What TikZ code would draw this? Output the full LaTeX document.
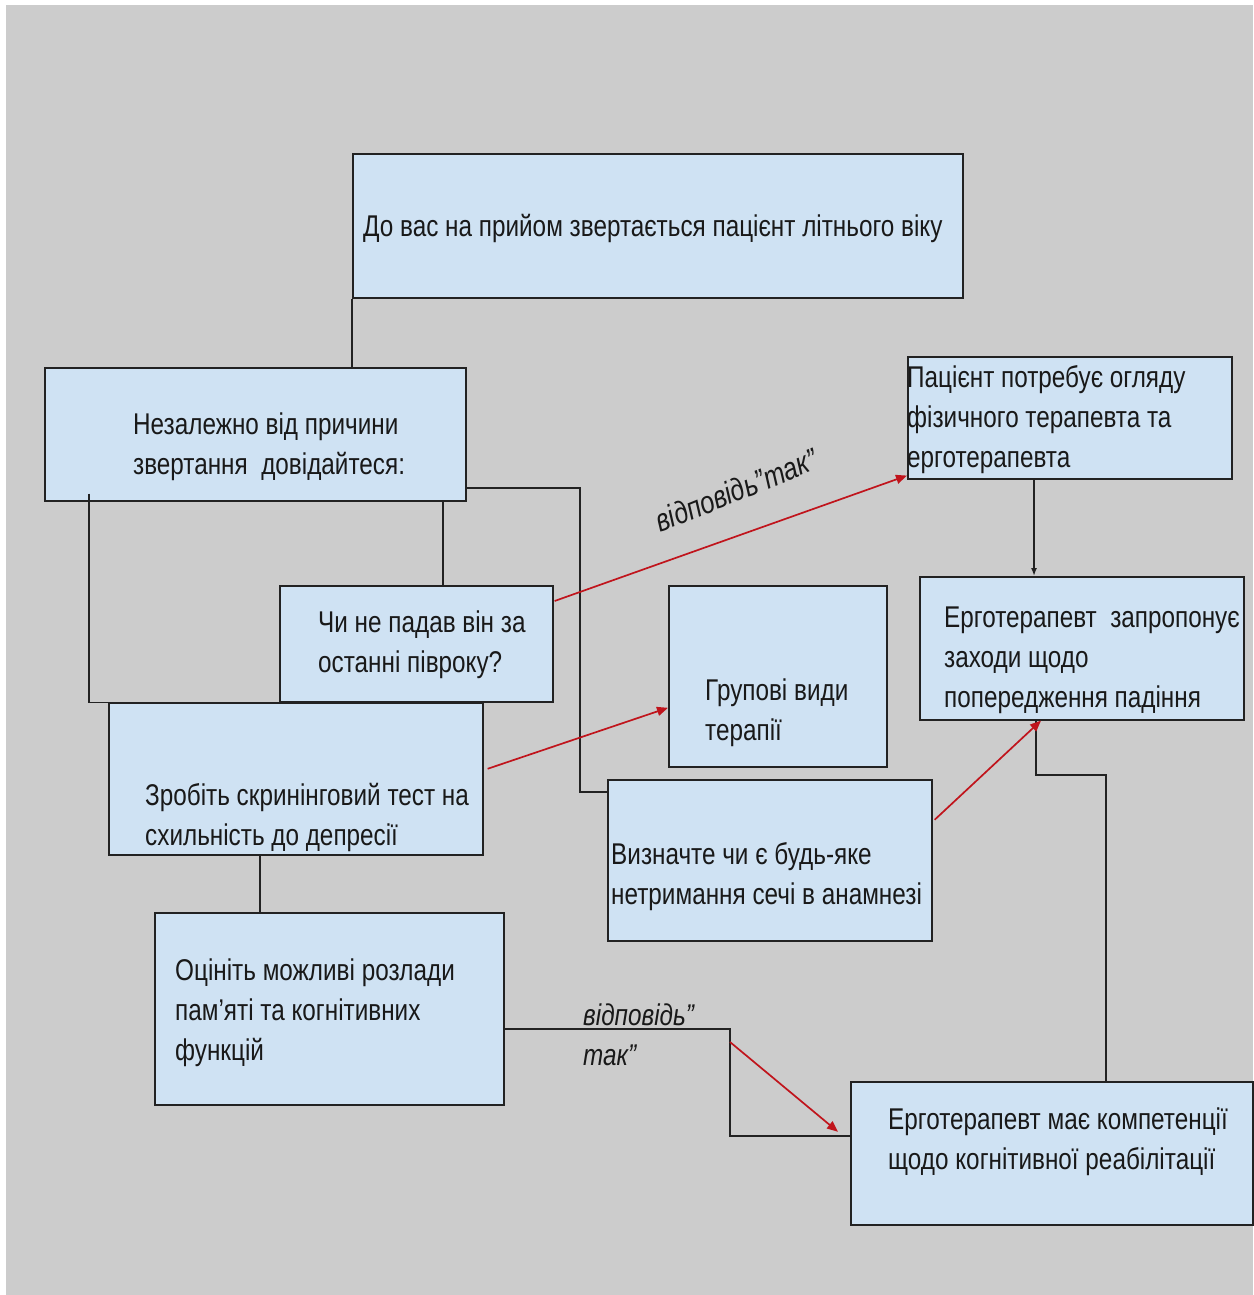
\documentclass[tikz,border=0pt]{standalone}
\usepackage{fontspec}
\newfontfamily\nf[FakeStretch=0.81]{Liberation Sans}
\usetikzlibrary{arrows.meta}
\definecolor{bggray}{HTML}{CCCCCC}
\definecolor{boxblue}{HTML}{CFE2F3}
\definecolor{arrred}{HTML}{C0141C}
\definecolor{linegray}{HTML}{222222}
\tikzset{
  box/.style={draw=linegray, line width=1.6pt, fill=boxblue, inner sep=0pt, anchor=north west},
  txt/.style={anchor=west, align=left, inner sep=0pt, text=black!90, font=\nf\fontsize{30}{40}\selectfont},
  lbl/.style={inner sep=0pt, text=black!90, font=\nf\itshape\fontsize{30}{40}\selectfont},
  conn/.style={draw=linegray, line width=1.5pt},
  redarr/.style={draw=arrred, line width=1.7pt, -{Triangle[length=11pt,width=9pt]}},
}
\begin{document}
\begin{tikzpicture}[x=1pt,y=-1pt]
\useasboundingbox (0,0) rectangle (1253,1295);
\fill[white] (0,0) rectangle (1253,1295);
\fill[bggray] (6,5) rectangle (1253,1295);

% boxes
\node[box, minimum width=610, minimum height=144] (b1) at (352,153) {};
\node[box, minimum width=421, minimum height=133] (b2) at (44,367) {};
\node[box, minimum width=324, minimum height=122] (b3) at (907,356) {};
\node[box, minimum width=273, minimum height=116] (b4) at (279,585) {};
\node[box, minimum width=218, minimum height=181] (b5) at (668,585) {};
\node[box, minimum width=324, minimum height=143] (b6) at (919,576) {};
\node[box, minimum width=374, minimum height=152] (b7) at (108,702) {};
\node[box, minimum width=324, minimum height=161] (b8) at (607,779) {};
\node[box, minimum width=349, minimum height=192] (b9) at (154,912) {};
\node[box, minimum width=402, minimum height=143] (b10) at (850,1081) {};

% texts
\node[txt] (t1) at (363,228) {До вас на прийом звертається пацієнт літнього віку};
\node[txt] (t2) at (133,447) {Незалежно від причини\\звертання~ довідайтеся:};
\node[txt] (t3) at (907,420) {Пацієнт потребує огляду\\фізичного терапевта та\\ерготерапевта};
\node[txt] (t4) at (318,645) {Чи не падав він за\\останні півроку?};
\node[txt] (t5) at (705,713) {Групові види\\терапії};
\node[txt] (t6) at (944,660) {Ерготерапевт~ запропонує\\заходи щодо\\попередження падіння};
\node[txt] (t7) at (145,817) {Зробіть скринінговий тест на\\схильність до депресії};
\node[txt] (t8) at (611,877) {Визначте чи є будь-яке\\нетримання сечі в анамнезі};
\node[txt] (t9) at (175,1013) {Оцініть можливі розлади\\пам’яті та когнітивних\\функцій};
\node[txt] (t10) at (888,1142) {Ерготерапевт має компетенції\\щодо когнітивної реабілітації};

% black connectors
\coordinate (c1) at (580,488);
\coordinate (c2) at (730,1029);
\coordinate (c3) at (1106,775);
\draw[conn] (b1.south west) -- (b1.south west |- b2.north);
\draw[conn] ([shift={(45,-8)}]b2.south west) |- (b4.south west);
\draw[conn] ([xshift=399]b2.south west) -- ([xshift=164]b4.north west);
\draw[conn] (b2.south east |- c1) -- (c1) |- ([shift={(0,13)}]b8.north west);
\draw[conn] ([xshift=152]b7.south west) -- ([xshift=106]b9.north west);
\draw[conn] (b9.east |- c2) -- (c2) |- ([shift={(0,-17.5)}]b10.west);
\draw[conn, -{Latex[length=8pt,width=6pt]}] ([xshift=127]b3.south west) -- ([xshift=115]b6.north west);
\draw[conn] ([xshift=117]b6.south west) |- (c3) -- (c3 |- b10.north);

% red arrows
\draw[redarr] ([shift={(1,16)}]b4.north east) -- ([shift={(0,-4)}]b3.south west);
\draw[redarr] ([shift={(4,-10)}]b7.east) -- ([shift={(0,31.5)}]b5.west);
\draw[redarr] ([shift={(2,-40.5)}]b8.east) -- ([xshift=122]b6.south west);
\draw[redarr] ([shift={(0,13)}]c2) -- ([shift={(-12,-21.5)}]b10.west);

% labels
\node[lbl, rotate=22, scale=1.05] (l1) at (736,490) {відповідь”так”};
\node[lbl, anchor=west, align=left] (l2) at (583,1035) {відповідь”\\так”};
\end{tikzpicture}
\end{document}
